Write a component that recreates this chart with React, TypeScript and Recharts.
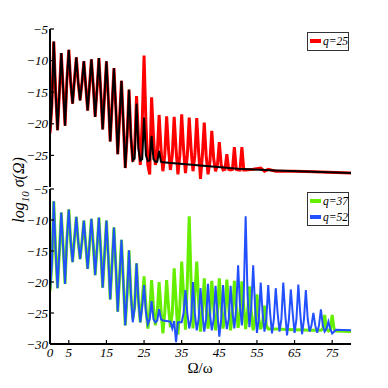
import React from 'react';
import { LineChart, Line, XAxis, YAxis } from 'recharts';

// Harmonic order axis (Ω/ω) and log10 σ(Ω) values
const xTicks = [0, 5, 15, 25, 35, 45, 55, 65, 75];
const xTicksTop = [5, 15, 25, 35, 45, 55, 65, 75];
const yTicksTop = [-25, -20, -15, -10, -5];
const yTicksBottom = [-30, -25, -20, -15, -10, -5];

// common low-order part (shared by all spectra)
const commonX = [0, 0.5, 1, 1.5, 2, 2.5, 3, 3.5, 4, 4.5, 5, 5.5, 6, 6.5, 7, 7.5, 8, 8.5, 9, 9.5, 10, 10.5, 11, 11.5, 12, 12.5, 13, 13.5, 14, 14.5, 15, 15.5, 16, 16.5, 17, 17.5, 18, 18.5, 19, 19.5, 20];
const commonY = [-21.5, -17, -7, -15, -21, -15, -8.8, -14.5, -20.3, -13, -8.3, -13.5, -16.8, -13, -9.5, -13.5, -16.3, -13.5, -10.1, -14, -17.9, -14, -9.8, -14, -18.9, -14.5, -9.6, -15, -20.9, -15.5, -10.1, -16, -22.8, -17, -11.2, -17.5, -24.8, -19, -13.2, -20, -27];

// black (no field) tail
const blackX = [20.5, 21, 21.5, 22, 22.5, 23, 23.5, 24, 24.5, 25, 25.5, 26, 26.5, 27, 27.5, 28, 28.5, 29, 29.5, 30, 40, 50, 60, 70, 80];
const blackY = [-22, -14.6, -22, -25.8, -25.5, -16.8, -24, -25.8, -25.6, -19, -25, -25.9, -25.8, -21.9, -25.6, -26, -26, -24.3, -26, -26.1, -26.6, -27.1, -27.4, -27.6, -27.8];

// q = 25 tail
const q25X = [20.5, 21, 21.5, 22, 22.5, 23, 23.5, 24, 24.5, 25, 25.5, 26, 26.5, 27, 27.5, 28, 28.5, 29, 29.5, 30, 30.5, 31, 31.5, 32, 32.5, 33, 33.5, 34, 34.5, 35, 35.5, 36, 36.5, 37, 37.5, 38, 38.5, 39, 39.5, 40, 40.5, 41, 41.5, 42, 42.5, 43, 43.5, 44, 44.5, 45, 45.5, 46, 46.5, 47, 47.5, 48, 48.5, 49, 49.5, 50, 50.5, 51, 51.5, 52, 54, 56, 57, 58, 60, 65, 70, 80];
const q25Y = [-22, -14.6, -22, -26, -24, -15.6, -22, -26.5, -20, -9.2, -20, -26.5, -28, -15.8, -22, -26.5, -25, -18.6, -24, -27.5, -25, -18.8, -24, -27.3, -25, -18.9, -24, -28, -25, -18.5, -24, -27.8, -25, -19, -24, -27.5, -25, -19.1, -24.5, -28.7, -25, -19.8, -25, -28, -26, -21.1, -25.5, -27.5, -26.5, -22.9, -26.5, -27.3, -27.2, -24.8, -27.2, -27.3, -27.2, -23.7, -27.2, -27.3, -27.3, -23.7, -27.3, -27.3, -27.2, -27.0, -27.5, -27.2, -27.5, -27.5, -27.6, -27.8];

// q = 37 tail
const q37X = [20.5, 21, 21.5, 22, 22.5, 23, 23.5, 24, 24.5, 25, 25.5, 26, 26.5, 27, 27.5, 28, 28.5, 29, 29.5, 30, 30.5, 31, 31.5, 32, 32.5, 33, 33.5, 34, 34.5, 35, 35.5, 36, 36.5, 37, 37.5, 38, 38.5, 39, 39.5, 40, 40.5, 41, 41.5, 42, 42.5, 43, 43.5, 44, 44.5, 45, 45.5, 46, 46.5, 47, 47.5, 48, 48.5, 49, 49.5, 50, 50.5, 51, 51.5, 52, 52.5, 53, 53.5, 54, 54.5, 55, 55.5, 56, 56.5, 57, 57.5, 58, 60, 65, 70, 72, 72.5, 73, 73.5, 74, 74.5, 75, 75.5, 76, 80];
const q37Y = [-22, -14.9, -22, -26, -24, -17, -23, -26.5, -23, -19.1, -24, -27.5, -25, -19.7, -24, -27, -25, -20, -24.5, -28.3, -25, -19.7, -24, -27.3, -25, -17.8, -23, -28.5, -24, -16.7, -22, -27.7, -20, -9.4, -20, -27.5, -22, -16.7, -23, -28, -25, -19.4, -24, -27.5, -25, -19.8, -24, -27.8, -25, -19.4, -24, -27.5, -25, -19.6, -24, -27.8, -25, -19.8, -24, -27.4, -25, -19.9, -24, -27.6, -25, -20.7, -25, -27.8, -26, -22, -26, -27.6, -26.5, -23.8, -27, -27.6, -27.6, -27.7, -27.8, -27.8, -27.6, -25.3, -27.6, -27.9, -27.6, -25.3, -27.6, -27.9, -28];

// q = 52 tail
const q52X = [20.5, 21, 21.5, 22, 22.5, 23, 23.5, 24, 24.5, 25, 25.5, 26, 26.5, 27, 27.5, 28, 28.5, 29, 29.5, 30, 31, 32, 32.5, 33, 33.5, 34, 35, 35.5, 36, 36.5, 37, 37.5, 38, 38.5, 39, 39.5, 40, 40.5, 41, 41.5, 42, 42.5, 43, 43.5, 44, 44.5, 45, 45.5, 46, 46.5, 47, 47.5, 48, 48.5, 49, 49.5, 50, 50.5, 51, 51.5, 52, 52.5, 53, 53.5, 54, 54.5, 55, 55.5, 56, 56.5, 57, 57.5, 58, 58.5, 59, 59.5, 60, 60.5, 61, 61.5, 62, 62.5, 63, 63.5, 64, 64.5, 65, 65.5, 66, 66.5, 67, 67.5, 68, 68.5, 69, 69.5, 70, 70.5, 71, 71.5, 72, 72.5, 73, 73.5, 74, 74.5, 75, 76, 80];
const q52Y = [-22, -14.9, -22, -26.5, -24, -17, -23, -26.5, -24, -20.5, -25, -26.8, -26, -23.1, -26, -26.5, -26.2, -24.4, -26, -26.2, -26.3, -26.4, -27.5, -26.3, -29.7, -26.5, -26.5, -25, -21.3, -25, -27.5, -26, -20, -25, -27.8, -26, -21, -25, -28, -26, -20.3, -25, -27.8, -26, -20.6, -25, -28.8, -26, -20.5, -25, -27.6, -26, -20.6, -25, -27.5, -24, -17.3, -24, -27, -22, -9.4, -22, -27.3, -24, -17.3, -24, -28.2, -26, -20.1, -25, -28, -26, -20.5, -25, -28.3, -26, -21, -25, -28, -26, -20.1, -25, -28.6, -26, -21.2, -25, -28.2, -26, -20.4, -25, -28.4, -26, -21.3, -26, -28, -27, -25, -27, -28.2, -27, -24.4, -27, -28, -27.5, -26.4, -27.6, -28.3, -27.7, -27.8];

const zip = (xs: number[], ys: number[]) => xs.map((x, i) => ({ x, y: ys[i] }));
const blackData = zip([...commonX, ...blackX], [...commonY, ...blackY]);
const q25Data = zip([...commonX, ...q25X], [...commonY, ...q25Y]);
const q37Data = zip([...commonX, ...q37X], [...commonY, ...q37Y]);
const q52Data = zip([...commonX, ...q52X], [...commonY, ...q52Y]);

const RED = '#ff0000';
const GREEN = '#66ee00';
const BLUE = '#2250ff';

const serif = '"Liberation Serif", "Times New Roman", serif';
const axisLine = { stroke: '#000', strokeWidth: 2 };
const tickLine = { stroke: '#000', strokeWidth: 1.2 };
const fmtY = (v: number) => String(v).replace('-', '\u2212');
const empty = () => '';

function SerifTick(props: any) {
  const { x, y, payload, textAnchor, tickFormatter, verticalAnchor } = props;
  const label = tickFormatter ? tickFormatter(payload.value) : String(payload.value);
  if (!label) return <g />;
  const dy = verticalAnchor === 'start' ? '0.71em' : '0.35em';
  return (
    <text
      x={x}
      y={y}
      dy={dy}
      textAnchor={textAnchor}
      style={{ fontFamily: serif, fontStyle: 'italic', fontSize: 13, fill: '#000' }}
    >
      {label}
    </text>
  );
}

function Panel({ top, height, margin, yTicks, bottomLabels, children }: any) {
  return (
    <div style={{ position: 'absolute', left: 0, top }}>
      <LineChart width={388} height={height} margin={margin}>
        <XAxis
          xAxisId="b"
          dataKey="x"
          type="number"
          domain={[0, 80]}
          ticks={bottomLabels ? xTicks : xTicksTop}
          height={bottomLabels ? 30 : 0}
          tickSize={-4}
          tickMargin={bottomLabels ? 8 : 0}
          tickFormatter={bottomLabels ? undefined : empty}
          tick={<SerifTick />}
          axisLine={axisLine}
          tickLine={tickLine}
          allowDataOverflow
          interval={0}
        />
        <XAxis
          xAxisId="t"
          orientation="top"
          dataKey="x"
          type="number"
          domain={[0, 80]}
          ticks={xTicksTop}
          height={0}
          tickSize={-4}
          tickFormatter={empty}
          tick={<SerifTick />}
          axisLine={axisLine}
          tickLine={tickLine}
          allowDataOverflow
          interval={0}
        />
        <YAxis
          yAxisId="l"
          type="number"
          domain={[-30, -5]}
          ticks={yTicks}
          width={40}
          tickSize={-4}
          tickMargin={6}
          tickFormatter={fmtY}
          tick={<SerifTick />}
          axisLine={axisLine}
          tickLine={tickLine}
          allowDataOverflow
          interval={0}
        />
        <YAxis
          yAxisId="r"
          orientation="right"
          type="number"
          domain={[-30, -5]}
          ticks={yTicks}
          width={0}
          tickSize={-4}
          tickFormatter={empty}
          tick={<SerifTick />}
          axisLine={axisLine}
          tickLine={tickLine}
          allowDataOverflow
          interval={0}
        />
        {children}
      </LineChart>
    </div>
  );
}

const legendBox: React.CSSProperties = {
  position: 'absolute',
  left: 307,
  width: 42,
  border: '1px solid #333',
  background: '#fff',
  boxSizing: 'border-box',
  fontFamily: serif,
  fontStyle: 'italic',
  fontSize: 11.5,
  lineHeight: '16px',
};

function LegendRow({ color, label }: { color: string; label: string }) {
  return (
    <div style={{ display: 'flex', alignItems: 'center', height: 16, paddingLeft: 2 }}>
      <span style={{ display: 'inline-block', width: 15, height: 3.5, background: color, marginRight: 2 }} />
      <span>{label}</span>
    </div>
  );
}

export default function App() {
  return (
    <div style={{ position: 'absolute', left: 0, top: 0, width: 388, height: 388, background: '#fff', fontFamily: serif }}>
      <Panel top={0} height={200} margin={{ top: 29, right: 37, bottom: 13, left: 10 }} yTicks={yTicksTop} bottomLabels={false}>
        <Line xAxisId="b" yAxisId="l" data={q25Data} dataKey="y" type="linear" stroke={RED} strokeWidth={3} dot={false} isAnimationActive={false} />
        <Line xAxisId="b" yAxisId="l" data={blackData} dataKey="y" type="linear" stroke="#000" strokeWidth={2} dot={false} isAnimationActive={false} />
      </Panel>
      <Panel top={180} height={200} margin={{ top: 9, right: 37, bottom: 6, left: 10 }} yTicks={yTicksBottom} bottomLabels={true}>
        <Line xAxisId="b" yAxisId="l" data={q37Data} dataKey="y" type="linear" stroke={GREEN} strokeWidth={3} dot={false} isAnimationActive={false} />
        <Line xAxisId="b" yAxisId="l" data={q52Data} dataKey="y" type="linear" stroke={BLUE} strokeWidth={2} dot={false} isAnimationActive={false} />
      </Panel>

      <div style={{ ...legendBox, top: 32, height: 19 }}>
        <LegendRow color={RED} label="q=25" />
      </div>
      <div style={{ ...legendBox, top: 192, height: 34 }}>
        <LegendRow color={GREEN} label="q=37" />
        <LegendRow color={BLUE} label="q=52" />
      </div>

      <div
        style={{
          position: 'absolute',
          left: 22,
          top: 190,
          transform: 'translate(-50%, -50%) rotate(-90deg)',
          whiteSpace: 'nowrap',
          fontFamily: serif,
          fontStyle: 'italic',
          fontSize: 16,
          lineHeight: '18px',
        }}
      >
        log<sub style={{ fontSize: 11 }}>10</sub> σ(Ω)
      </div>
      <div
        style={{
          position: 'absolute',
          left: 200,
          top: 368,
          transform: 'translate(-50%, -50%)',
          whiteSpace: 'nowrap',
          fontFamily: serif,
          fontSize: 15,
          lineHeight: '16px',
        }}
      >
        Ω/ω
      </div>
    </div>
  );
}
